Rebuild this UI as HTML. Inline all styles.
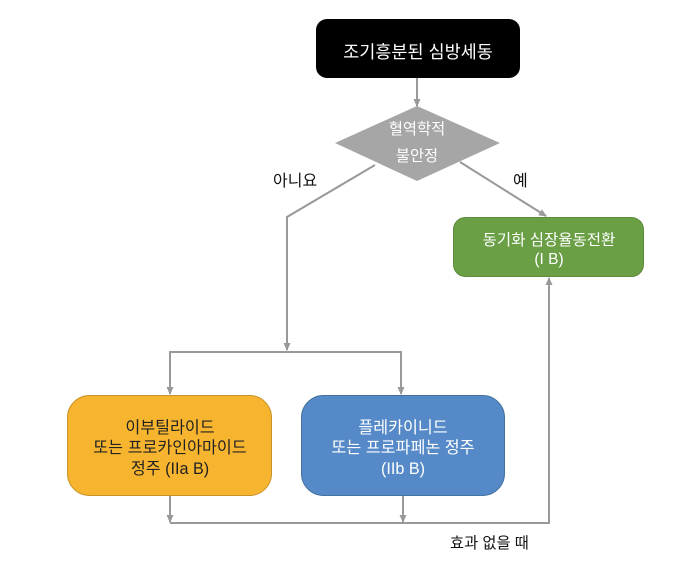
<!DOCTYPE html>
<html><head><meta charset="utf-8"><style>
html,body{margin:0;padding:0;background:#fff;}
svg{display:block;}
text{font-family:"Liberation Sans","Noto Sans CJK KR",sans-serif;}
</style></head><body>
<svg width="680" height="564" viewBox="0 0 680 564" xmlns="http://www.w3.org/2000/svg">
<defs>
<marker id="ah" markerWidth="8" markerHeight="8" refX="7" refY="4" orient="auto" markerUnits="userSpaceOnUse">
<path d="M0,0.5 L8,4 L0,7.5 z" fill="#999"/>
</marker>
</defs>
<!-- top box -->
<rect x="316" y="19" width="204" height="59" rx="11" fill="#000"/>
<text x="418" y="58" font-size="17.5" fill="#fff" text-anchor="middle">조기흥분된 심방세동</text>
<!-- arrow to diamond -->
<line x1="417" y1="78" x2="417" y2="106" stroke="#999" stroke-width="2" marker-end="url(#ah)"/>
<!-- diamond -->
<polygon points="417,106 500,143 417,181 335,143" fill="#a6a6a6"/>
<text x="417" y="134" font-size="15.3" fill="#fff" text-anchor="middle">혈역학적</text>
<text x="417" y="161" font-size="15.3" fill="#fff" text-anchor="middle">불안정</text>
<!-- labels -->
<text x="273" y="186" font-size="16" fill="#111">아니요</text>
<text x="513" y="186" font-size="16" fill="#111">예</text>
<!-- no branch -->
<polyline points="375,165 287,217 287,350" fill="none" stroke="#999" stroke-width="2" marker-end="url(#ah)"/>
<line x1="170" y1="352" x2="402" y2="352" stroke="#999" stroke-width="2"/>
<line x1="170" y1="351" x2="170" y2="394" stroke="#999" stroke-width="2" marker-end="url(#ah)"/>
<line x1="401" y1="351" x2="401" y2="394" stroke="#999" stroke-width="2" marker-end="url(#ah)"/>
<!-- yes branch -->
<line x1="460" y1="162" x2="546" y2="216" stroke="#999" stroke-width="2" marker-end="url(#ah)"/>
<!-- green box -->
<rect x="453.5" y="217.5" width="190" height="59" rx="12" fill="#6a9f45" stroke="#5d8b3c" stroke-width="1"/>
<text x="549" y="245" font-size="15.5" fill="#fff" text-anchor="middle">동기화 심장율동전환</text>
<text x="549" y="264" font-size="15.5" fill="#fff" text-anchor="middle">(I B)</text>
<!-- yellow box -->
<rect x="67.5" y="395.5" width="204" height="100" rx="22" fill="#f7b52f" stroke="#c99228" stroke-width="1"/>
<text x="170" y="433" font-size="16.2" fill="#222" text-anchor="middle">이부틸라이드</text>
<text x="170" y="453" font-size="16.2" fill="#222" text-anchor="middle">또는 프로카인아마이드</text>
<text x="170" y="474" font-size="16.2" fill="#222" text-anchor="middle">정주 (IIa B)</text>
<!-- blue box -->
<rect x="301.5" y="395.5" width="203" height="100" rx="22" fill="#5589c8" stroke="#42729f" stroke-width="1"/>
<text x="403" y="433" font-size="16.2" fill="#fff" text-anchor="middle">플레카이니드</text>
<text x="403" y="453" font-size="16.2" fill="#fff" text-anchor="middle">또는 프로파페논 정주</text>
<text x="403" y="474" font-size="16.2" fill="#fff" text-anchor="middle">(IIb B)</text>
<!-- bottom return -->
<line x1="170" y1="496" x2="170" y2="522" stroke="#999" stroke-width="2" marker-end="url(#ah)"/>
<line x1="403" y1="496" x2="403" y2="522" stroke="#999" stroke-width="2" marker-end="url(#ah)"/>
<polyline points="170,523 549,523 549,278" fill="none" stroke="#999" stroke-width="2" marker-end="url(#ah)"/>
<text x="450" y="548" font-size="15.3" fill="#111">효과 없을 때</text>
</svg>
</body></html>
